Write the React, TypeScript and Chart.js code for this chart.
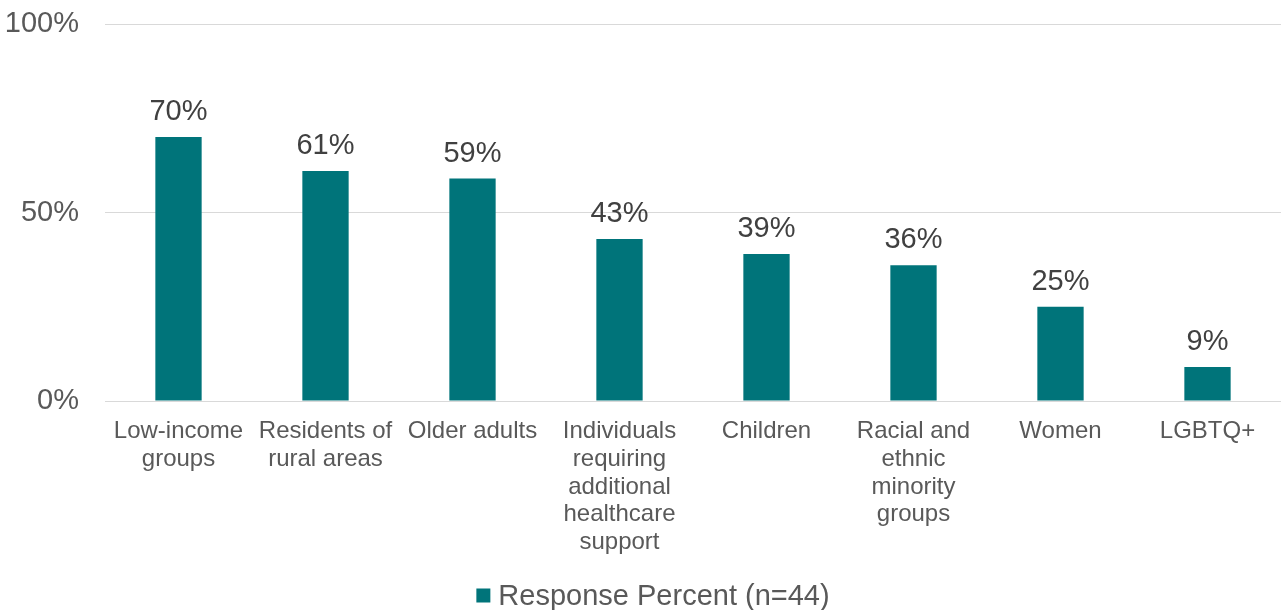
import React, { useEffect, useRef } from "react";
import { Chart, registerables } from "chart.js";

Chart.register(...registerables);

const categories: (string | string[])[] = [
  ["Low-income", "groups"],
  ["Residents of", "rural areas"],
  "Older adults",
  ["Individuals", "requiring", "additional", "healthcare", "support"],
  "Children",
  ["Racial and", "ethnic", "minority", "groups"],
  "Women",
  "LGBTQ+",
];
const responsePercent = [70, 61, 59, 43, 39, 36, 25, 9];
const seriesLabel = "Response Percent (n=44)";
const yTicks = [0, 50, 100];

const BAR_COLOR = "#00747A";
const FONT = "'Liberation Sans', Arial, sans-serif";

const dataLabelPlugin = {
  id: "dataLabels",
  afterDatasetsDraw(chart: any) {
    const ctx = chart.ctx;
    const meta = chart.getDatasetMeta(0);
    const data = chart.data.datasets[0].data as number[];
    ctx.save();
    ctx.font = `29px ${FONT}`;
    ctx.fillStyle = "#404040";
    ctx.textAlign = "center";
    ctx.textBaseline = "alphabetic";
    meta.data.forEach((bar: any, i: number) => {
      ctx.fillText(`${data[i]}%`, bar.x, bar.y - 17);
    });
    ctx.restore();
  },
};

const legendPlugin = {
  id: "customLegend",
  afterDraw(chart: any) {
    const ctx = chart.ctx;
    const ds = chart.data.datasets[0];
    ctx.save();
    ctx.font = `29px ${FONT}`;
    const tw = ctx.measureText(ds.label).width;
    const box = 14;
    const gap = 8;
    const total = box + gap + tw;
    const cx = chart.width / 2 + 10;
    const x0 = cx - total / 2;
    const cy = 595.5;
    ctx.fillStyle = ds.backgroundColor;
    ctx.fillRect(x0, cy - box / 2, box, box);
    ctx.fillStyle = "#595959";
    ctx.textAlign = "left";
    ctx.textBaseline = "middle";
    ctx.fillText(ds.label, x0 + box + gap, cy + 1);
    ctx.restore();
  },
};

export default function App() {
  const ref = useRef<HTMLCanvasElement | null>(null);

  useEffect(() => {
    if (!ref.current) return;
    const chart = new Chart(ref.current, {
      type: "bar",
      data: {
        labels: categories,
        datasets: [
          {
            label: seriesLabel,
            data: responsePercent,
            backgroundColor: BAR_COLOR,
            barPercentage: 0.315,
            categoryPercentage: 1,
          },
        ],
      },
      options: {
        responsive: false,
        animation: false,
        layout: { padding: { top: 24, right: 5, bottom: 0, left: 0 } },
        plugins: {
          legend: { display: false },
          tooltip: { enabled: false },
        },
        scales: {
          x: {
            grid: { display: false, drawTicks: false },
            border: { display: false },
            ticks: {
              color: "#595959",
              font: { family: FONT, size: 24, lineHeight: 1.15 },
              padding: 17,
              maxRotation: 0,
              autoSkip: false,
            },
            afterFit: (scale: any) => {
              scale.height = 209;
            },
          },
          y: {
            min: 0,
            max: 100,
            afterBuildTicks: (scale: any) => {
              scale.ticks = yTicks.map((v) => ({ value: v }));
            },
            grid: { color: "#D9D9D9", lineWidth: 1, drawTicks: false },
            border: { display: false },
            ticks: {
              color: "#595959",
              font: { family: FONT, size: 29 },
              padding: 26,
              callback: (v: any) => `${v}%`,
            },
            afterFit: (scale: any) => {
              scale.width = 105;
              scale.paddingTop = 0;
              scale.paddingBottom = 0;
            },
          },
        },
      },
      plugins: [dataLabelPlugin, legendPlugin],
    });
    return () => chart.destroy();
  }, []);

  return (
    <div style={{ position: "absolute", left: 0, top: 0, width: 1286, height: 610, background: "#fff" }}>
      <canvas ref={ref} width={1286} height={610} style={{ display: "block" }} />
    </div>
  );
}
